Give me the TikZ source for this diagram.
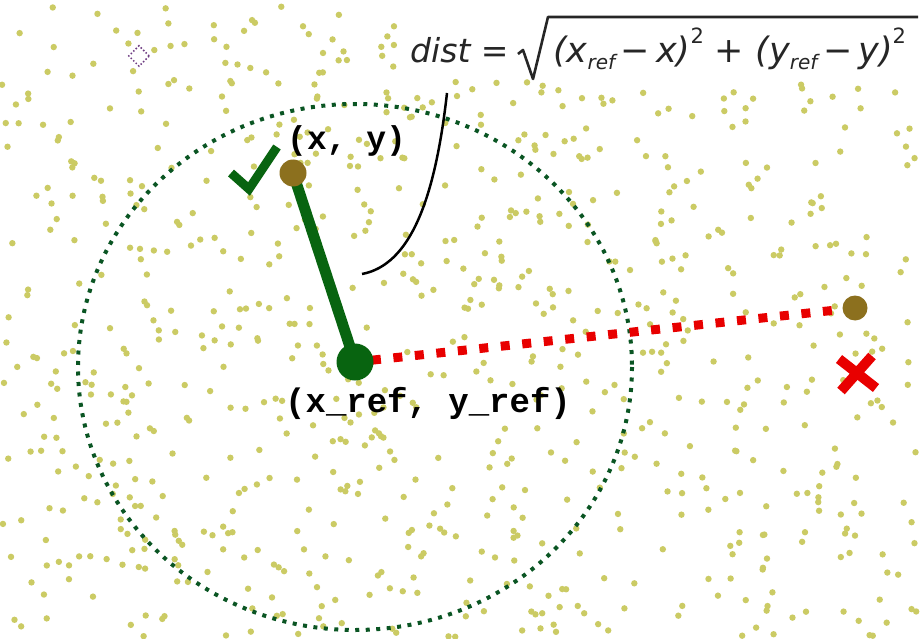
\documentclass[tikz,border=0pt]{standalone}
\usepackage{fontspec}
\usetikzlibrary{shapes.geometric}
\newfontfamily\monob{Liberation Mono}
\newfontfamily\formfont{DejaVu Sans}
\definecolor{dotyel}{RGB}{203,203,100}
\definecolor{dkgreen}{RGB}{8,100,16}
\definecolor{circgreen}{RGB}{10,85,35}
\definecolor{ptbrown}{RGB}{140,112,30}
\definecolor{xred}{RGB}{232,0,0}
\definecolor{diapurple}{RGB}{110,60,130}
\begin{document}
\begin{tikzpicture}[x=1pt,y=-1pt,
  bgdot/.style={fill=dotyel},
  pointdot/.style={circle, fill=ptbrown, inner sep=0pt},
  monolabel/.style={font=\monob\bfseries\fontsize{34}{34}\selectfont, anchor=base west, inner sep=0pt, text=black},
  formtext/.style={font=\formfont\itshape\fontsize{33}{40}\selectfont, anchor=base west, inner sep=0pt, text=black!85}]
\useasboundingbox (0,0) rectangle (920,639);
\fill[white] (0,0) rectangle (920,639);
% background dots
\pgfmathsetseed{7}
\foreach \i in {1,...,850}{
  \pgfmathsetmacro\dx{rnd*916+2}
  \pgfmathsetmacro\dy{rnd*635+2}
  \pgfmathtruncatemacro\skipit{(\dx>395)&&(\dy<82)}
  \ifnum\skipit=0 \fill[bgdot] (\dx,\dy) circle[radius=3.2]; \fi
}
% dotted circle
\draw[circgreen, line width=4pt, dash pattern=on 4pt off 6.5pt] (355,367) ellipse [x radius=277, y radius=263];
% positions
\coordinate (xy) at (293,173);
\coordinate (ref) at (355,362);
\coordinate (far) at (855,308);
\draw[dkgreen, line width=11pt] (xy) -- (ref);
\draw[xred, line width=9pt, dash pattern=on 9pt off 12.6pt, shorten <=17pt, shorten >=10pt] (ref) -- (far);
\node[pointdot, minimum size=27pt] (pxy) at (xy) {};
\node[circle, fill=dkgreen, inner sep=0pt, minimum size=37pt] (pref) at (ref) {};
\node[pointdot, minimum size=25pt] (pfar) at (far) {};
% check mark
\coordinate (ck1) at (231,173);
\coordinate (ck2) at (249,189);
\coordinate (ck3) at (277,147);
\draw[dkgreen, line width=9pt] (ck1) -- (ck2) -- (ck3);
% red cross
\coordinate (xa) at (839,359);
\coordinate (xb) at (876,388);
\coordinate (xc) at (872,356);
\coordinate (xd) at (841,391);
\draw[xred, line width=10pt] (xa) -- (xb) (xc) -- (xd);
% labels
\node[monolabel, font=\monob\bfseries\fontsize{33}{33}\selectfont] (lxy) at (287,150) {(x, y)};
\node[monolabel] (lref) at (285,412) {(x\_ref, y\_ref)};
% small diamond
\node[diamond, draw=diapurple, dotted, line width=1.5pt, minimum width=21pt, minimum height=21pt, inner sep=0pt] (dia) at (139,56) {};
% formula
\node[formtext] (dist) at (410,63) {dist =};
\coordinate (r1) at (518,54);
\coordinate (r2) at (523,50);
\coordinate (r3) at (533,79);
\coordinate (r4) at (548,17);
\coordinate (r5) at (918,17);
\draw[black!85, line width=2.6pt, line join=round] (r1) -- (r2) -- (r3) -- (r4) -- (r5);
\node[formtext, font=\formfont\itshape\fontsize{35}{40}\selectfont] (expr) at (553,63) {(x\raisebox{-0.35ex}{\fontsize{20}{20}\selectfont ref}\,−\,x)\raisebox{1.0ex}{\upshape\fontsize{21}{21}\selectfont 2} + (y\raisebox{-0.35ex}{\fontsize{20}{20}\selectfont ref}\,−\,y)\raisebox{1.0ex}{\upshape\fontsize{21}{21}\selectfont 2}};
% pointer curve
\coordinate (cu1) at (447,93);
\coordinate (cu2) at (362,274);
\draw[black, line width=2.5pt] (cu1) .. controls (435,200) and (410,265) .. (cu2);
\end{tikzpicture}
\end{document}
